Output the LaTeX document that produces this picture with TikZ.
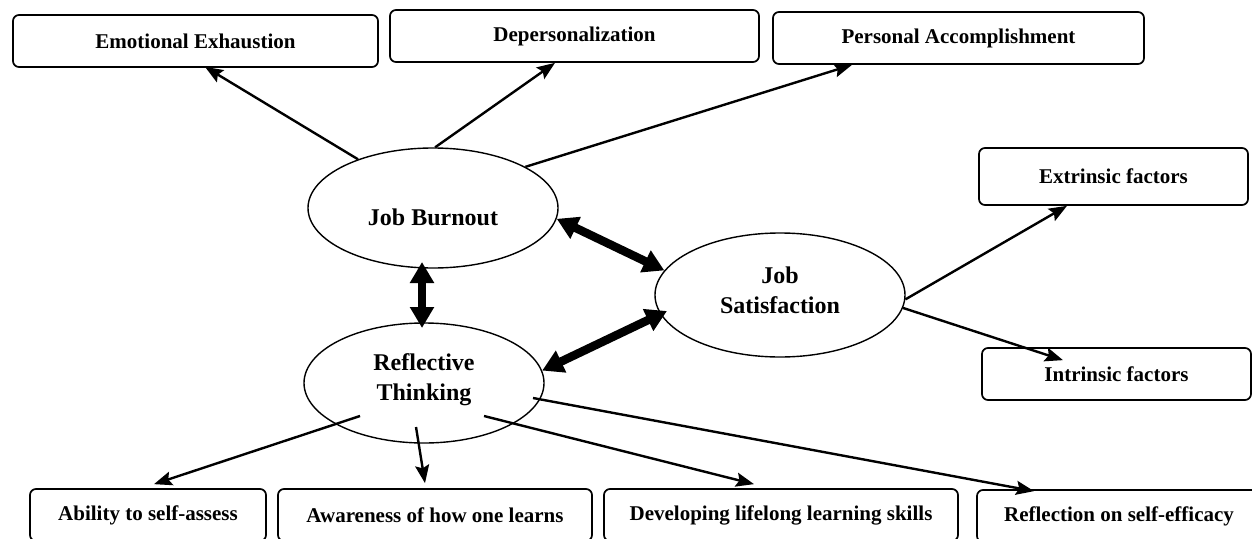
\documentclass[tikz,border=0pt]{standalone}
\usepackage{fontspec}
\setmainfont{Liberation Serif}
\usetikzlibrary{shapes.geometric,arrows.meta,calc}
\begin{document}
\begin{tikzpicture}[x=1pt,y=-1pt,
  box/.style={draw,line width=1.7pt,rounded corners=6pt,minimum height=52pt,inner sep=0pt,font=\fontsize{21}{25}\selectfont\bfseries},
  oval/.style={draw,ellipse,line width=1.4pt,inner sep=0pt},
  ovaltext/.style={font=\fontsize{24}{30}\selectfont\bfseries,align=center},
  arr/.style={line width=2.4pt,-{Stealth[length=18pt,width=14pt,inset=3pt]}},
  dbl/.style={line width=8.5pt,{Triangle[length=21pt,width=23pt]}-{Triangle[length=21pt,width=23pt]}}]
\useasboundingbox (0,0) rectangle (1252,538);
\clip (0,0) rectangle (1252,538);
% top boxes
\node[box,minimum width=365pt] (ee) at (195.5,41) {Emotional Exhaustion};
\node[box,minimum width=369pt] (dp) at (574.5,36) {Depersonalization};
\node[box,minimum width=371pt] (pa) at (958.5,38) {Personal Accomplishment};
% right boxes
\node[box,minimum width=269pt,minimum height=57pt] (ext) at (1113.5,176.5) {Extrinsic factors};
\node[box,minimum width=269pt] (int) at (1116.5,374) {Intrinsic factors};
% bottom boxes
\node[box,minimum width=236pt] (ab) at (148,515) {Ability to self-assess};
\node[box,minimum width=314pt] (aw) at (435,515) {Awareness of how one learns};
\node[box,minimum width=354pt] (dv) at (781,515) {Developing lifelong learning skills};
\node[box,minimum width=284pt] (rf) at (1119,516) {Reflection on self-efficacy};
% ellipses
\node[oval,minimum width=250pt,minimum height=120pt,
  label={[ovaltext,yshift=-9pt]center:Job Burnout}] (jb) at (433,208) {};
\node[oval,minimum width=250pt,minimum height=124pt,
  label={[ovaltext,yshift=5pt]center:Job\\Satisfaction}] (js) at (780,295) {};
\node[oval,minimum width=240pt,minimum height=120pt,
  label={[ovaltext,yshift=3pt]center:Reflective\\Thinking}] (rt) at (424,383) {};
% arrow end points
\coordinate (eeT) at ([xshift=9.5pt,yshift=1pt]ee.south);
\coordinate (dpT) at ([xshift=-19.5pt]dp.south);
\coordinate (paT) at ([xshift=-106.5pt]pa.south);
\coordinate (extT) at ([xshift=-46.5pt]ext.south);
\coordinate (intT) at ([xshift=-53.5pt,yshift=-13pt]int.north);
\coordinate (abT) at ([xshift=6pt,yshift=4pt]ab.north);
\coordinate (awT) at ([xshift=-10pt,yshift=5pt]aw.north);
\coordinate (dvT) at ([xshift=-27pt,yshift=4pt]dv.north);
\coordinate (rfT) at ([xshift=-85pt,yshift=-2pt]rf.north);
\coordinate (rtA) at ([xshift=-64pt,yshift=-33pt]rt.center);
\coordinate (rtB) at ([xshift=-8pt,yshift=-44pt]rt.center);
\coordinate (rtC) at ([xshift=60pt,yshift=-33pt]rt.center);
\coordinate (rtD) at ([xshift=109pt,yshift=-15pt]rt.center);
\coordinate (jbS) at ([xshift=-11pt,yshift=-54pt]jb.center);
\coordinate (rtN) at ([xshift=-2pt,yshift=55pt]rt.center);
\coordinate (jsW) at ([xshift=-113pt,yshift=-16pt]js.center);
% connectors
\draw[arr] (jb.147) -- (eeT);
\draw[arr] (jb.88) -- (dpT);
\draw[arr] (jb.24) -- (paT);
\draw[arr] (js.-2) -- (extT);
\draw[arr] (js.-6.5) -- (intT);
\draw[arr] (rtA) -- (abT);
\draw[arr] (rtB) -- (awT);
\draw[arr] (rtC) -- (dvT);
\draw[arr] (rtD) -- (rfT);
\draw[dbl] (jb.-5) -- (js.168);
\draw[dbl] (jbS) -- (rtN);
\draw[dbl] (rt.6) -- (jsW);
\end{tikzpicture}
\end{document}
